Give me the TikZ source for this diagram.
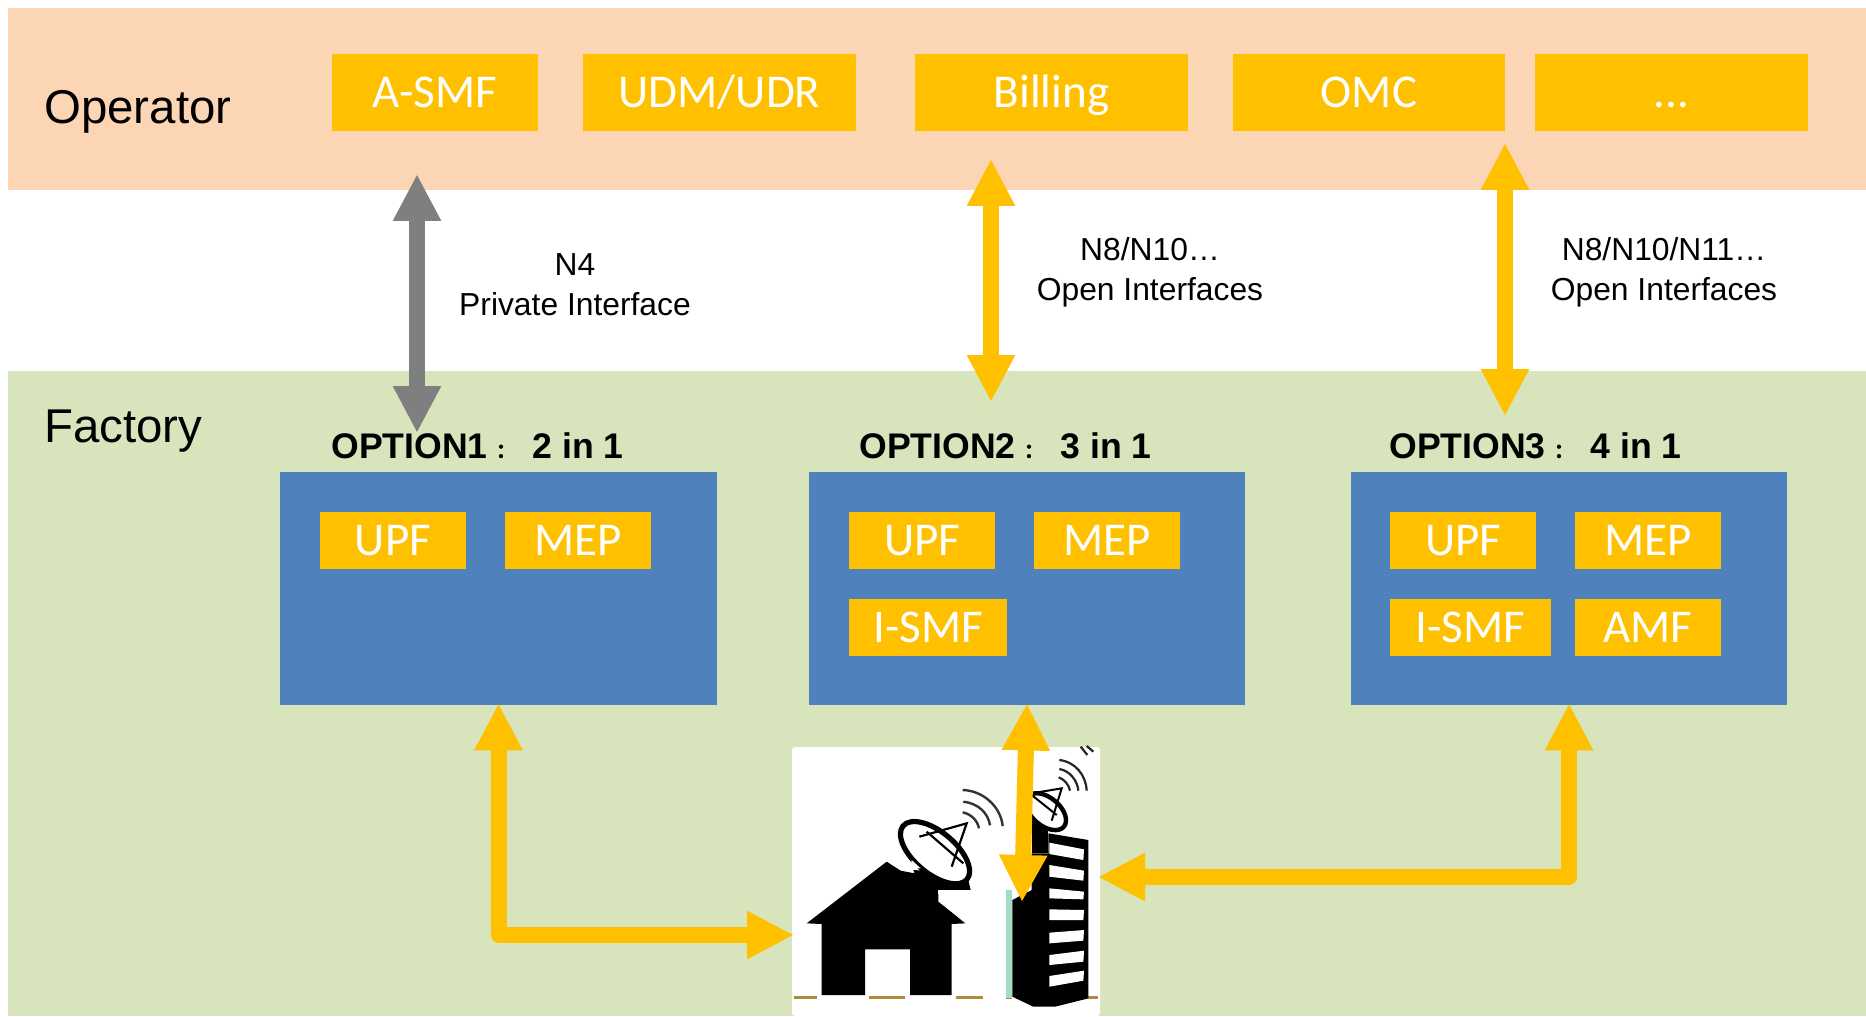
\documentclass[tikz,border=0pt]{standalone}
\usepackage{fontspec}
\setmainfont{Liberation Sans}
\newfontfamily\boxfont{Carlito}
\newfontfamily\cjkfont[Script=CJK,Language=Chinese Simplified]{Noto Sans CJK SC}
\usetikzlibrary{arrows.meta}
\definecolor{opband}{HTML}{FCD5B5}
\definecolor{facband}{HTML}{D8E4BC}
\definecolor{bluebox}{HTML}{4F81BD}
\definecolor{amber}{HTML}{FFC000}
\definecolor{greyarrow}{HTML}{7F7F7F}
\definecolor{ground}{HTML}{B08A3E}
\definecolor{teal}{HTML}{A3DCC0}
\tikzset{
  amberbox/.style={fill=amber,text=white,inner sep=0pt,text height=17pt,text depth=2pt,font=\boxfont\fontsize{23.5}{28}\selectfont},
  bluepanel/.style={fill=bluebox,inner sep=0pt},
  bandtitle/.style={anchor=west,inner sep=0pt,font=\fontsize{23.7}{28}\selectfont},
  optiontitle/.style={anchor=west,inner sep=0pt,font=\bfseries\fontsize{17.8}{22}\selectfont},
  iflabel/.style={align=center,inner sep=0pt,font=\fontsize{15.9}{19.8}\selectfont},
  bigarrow/.style={line width=8pt,line join=round,{Triangle[length=23.5pt,width=22.5pt]}-{Triangle[length=23.5pt,width=22.5pt]}},
}
\newcommand{\optcolon}{\makebox[22.5pt][l]{\hspace{4.5pt}\cjkfont\fontsize{10}{10}\selectfont：}}
\newcommand{\rbox}[7][]{\node[#7,minimum width={(#4-#2)*0.5pt},minimum height={(#5-#3)*0.5pt},#1] (#6) at ({(#2+#4)/2},{(#3+#5)/2})}
\begin{document}
\begin{tikzpicture}[x=0.5pt,y=-0.5pt]
\useasboundingbox (0,0) rectangle (1866,1016);
\fill[white] (0,0) rectangle (1866,1016);
\rbox{8}{8}{1866}{190}{opband}{fill=opband,inner sep=0pt} {};
\rbox{8}{371}{1866}{1016}{facband}{fill=facband,inner sep=0pt} {};
\node[bandtitle] (operator) at (44,112) {Operator};
\node[bandtitle] (factory) at (44,431) {Factory};
% top row
\rbox{332}{54}{538}{131}{asmf}{amberbox} {A-SMF};
\rbox{583}{54}{856}{131}{udm}{amberbox} {UDM/UDR};
\rbox{915}{54}{1188}{131}{billing}{amberbox} {Billing};
\rbox{1233}{54}{1505}{131}{omc}{amberbox} {OMC};
\rbox{1535}{54}{1808}{131}{more}{amberbox} {...};
% panels
\rbox{280}{472}{717}{705}{panela}{bluepanel} {};
\rbox{809}{472}{1245}{705}{panelb}{bluepanel} {};
\rbox{1351}{472}{1787}{705}{panelc}{bluepanel} {};
\node[optiontitle] (opta) at (331,446) {OPTION1\optcolon 2 in 1};
\node[optiontitle] (optb) at (859,446) {OPTION2\optcolon 3 in 1};
\node[optiontitle] (optc) at (1389,446) {OPTION3\optcolon 4 in 1};
\rbox{320}{512}{466}{569}{upfa}{amberbox} {UPF};
\rbox{505}{512}{651}{569}{mepa}{amberbox} {MEP};
\rbox{849}{512}{995}{569}{upfb}{amberbox} {UPF};
\rbox{1034}{512}{1180}{569}{mepb}{amberbox} {MEP};
\rbox{849}{599}{1007}{656}{smfb}{amberbox} {I-SMF};
\rbox{1390}{512}{1536}{569}{upfc}{amberbox} {UPF};
\rbox{1575}{512}{1721}{569}{mepc}{amberbox} {MEP};
\rbox{1390}{599}{1551}{656}{smfc}{amberbox} {I-SMF};
\rbox{1575}{599}{1721}{656}{amfc}{amberbox} {AMF};
% labels
\node[iflabel] (lbla) at (575,285) {N4\\Private Interface};
\node[iflabel] (lblb) at (1150,272) {N8/N10…\\Open Interfaces};
\node[iflabel] (lblc) at (1664,272) {N8/N10/N11…\\Open Interfaces};
% site picture
\rbox{792}{747}{1100}{1016}{site}{fill=white,rounded corners=1.5pt,inner sep=0pt} {};
\begin{scope}[shift={(780,700)},x=0.16667pt,y=-0.16667pt]
  % house dish
  \fill (400,510) -- (560,520) -- (572,570) -- (420,570) -- cycle;
  \draw[line width=2.6pt,fill=white,rotate around={-40:(465,458)}] (465,458) ellipse [x radius=125,y radius=62];
  \draw[line width=1.1pt] (418,410) -- (560,370) -- (515,500);
  \draw[line width=1.1pt] (440,395) -- (550,490);
  \fill[white] (395,480) -- (422,505) -- (392,505) -- cycle;
  \draw[line width=1.2pt,black!80] (548,270) .. controls (610,272) and (662,320) .. (668,378);
  \draw[line width=1.2pt,black!80] (550,305) .. controls (595,310) and (625,340) .. (630,376);
  \draw[line width=1.2pt,black!80] (548,337) .. controls (572,342) and (592,360) .. (597,385);
  % house
  \fill (80,670) -- (320,485) -- (362,512) -- (430,525) -- (475,570) -- (475,605) -- (556,670) -- (515,672) -- (515,885) -- (390,885) -- (390,748) -- (255,748) -- (255,885) -- (125,885) -- (125,672) -- cycle;
  \fill[white] (475,570) rectangle (575,582);
  % ground
  \foreach \a/\b in {42/110,268/375,528/608,678/697,925/953}
    \draw[ground,line width=1.2pt] (\a,892) -- (\b,892);
  % tower
  \fill[teal] (678,570) rectangle (697,893);
  \fill (697,600) -- (755,570) -- (755,460) -- (805,460) -- (805,400) -- (925,420) -- (925,895) -- (825,920) -- (760,920) -- (697,890) -- cycle;
  \fill (755,350) rectangle (805,460);
  \draw[line width=2.2pt,fill=white,rotate around={-40:(798,335)}] (798,335) ellipse [x radius=70,y radius=42];
  \draw[line width=1pt] (755,280) -- (845,265) -- (815,362);
  \draw[line width=1pt] (755,285) -- (830,345);
  \draw[line width=1.1pt,black!85] (838,180) .. controls (885,185) and (918,225) .. (920,272);
  \draw[line width=1.1pt,black!85] (838,207) .. controls (868,212) and (892,240) .. (895,272);
  \draw[line width=1.1pt,black!85] (836,232) .. controls (852,238) and (866,252) .. (870,272);
  \draw[line width=1.1pt,black!85] (902,140) -- (922,165);
  \draw[line width=1.1pt,black!85] (920,138) -- (940,155);
  \foreach \p in {
    {(808,428) -- (912,448) -- (910,480) -- (808,462)},
    {(808,495) -- (912,512) -- (910,542) -- (808,530)},
    {(808,565) -- (912,575) -- (910,598) -- (808,595)},
    {(808,628) -- (912,630) -- (910,660) -- (808,660)},
    {(808,698) -- (912,690) -- (910,722) -- (808,730)},
    {(808,765) -- (912,752) -- (910,785) -- (808,795)},
    {(808,828) -- (912,812) -- (910,842) -- (808,860)}}
    \fill[white] \p -- cycle;
\end{scope}
% connectors
\coordinate (greytop) at (417,174);
\coordinate (greybot) at (417,433);
\coordinate (billtop) at (991,159);
\coordinate (billbot) at (991,402);
\coordinate (omctop) at (1505,143);
\coordinate (omcbot) at (1505,416);
\coordinate (midend) at (1022,902);
\coordinate (homeend) at (794,935);
\coordinate (towerend) at (1098,877);
\draw[bigarrow,greyarrow] (greytop) -- (greybot);
\draw[bigarrow,amber] (billtop) -- (billbot);
\draw[bigarrow,amber] (omctop) -- (omcbot);
\draw[bigarrow,amber,shorten <=-1pt] (panela.south) -- (panela.south |- homeend) -- (homeend);
\draw[bigarrow,amber,shorten <=-1pt] (panelb.south) -- (midend);
\draw[bigarrow,amber,shorten <=-1pt] (panelc.south) -- (panelc.south |- towerend) -- (towerend);
\end{tikzpicture}
\end{document}
